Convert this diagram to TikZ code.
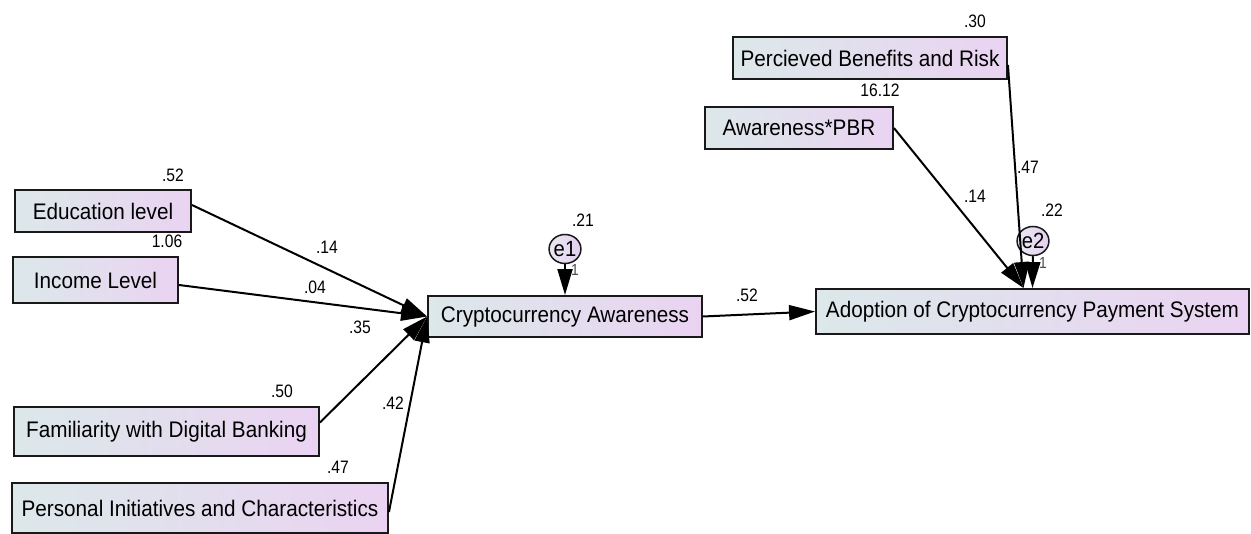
\documentclass[tikz,border=0pt]{standalone}
\usepackage{fontspec}
\setmainfont{Liberation Sans}
\newfontfamily\boxfont{Liberation Sans}[FakeStretch=0.92]
\newfontfamily\numfont{Liberation Sans}[FakeStretch=0.87]
\usetikzlibrary{arrows.meta,calc,shapes.geometric}
\definecolor{boxL}{RGB}{220,232,234}
\definecolor{boxR}{RGB}{234,211,242}
\definecolor{errL}{RGB}{236,232,244}
\definecolor{errR}{RGB}{226,208,238}
\tikzset{
  var/.style={draw=black!90, line width=1.9pt, left color=boxL, right color=boxR,
    inner sep=0pt, font=\boxfont\fontsize{22.5}{26}\selectfont},
  err/.style={draw=black!90, line width=1.5pt, ellipse, left color=errL, right color=errR,
    inner sep=0pt, minimum width=26pt, minimum height=29pt, font=\boxfont\fontsize{22}{26}\selectfont},
  coef/.style={inner sep=0pt, font=\numfont\fontsize{18}{20}\selectfont},
  one/.style={inner sep=0pt, text=black!70, font=\numfont\fontsize{16}{18}\selectfont},
  regpath/.style={draw=black, line width=2pt, -{Triangle[length=26pt,width=15pt]}},
}
\begin{document}
\begin{tikzpicture}[x=1pt,y=-1pt]
\useasboundingbox (0,0) rectangle (1251,534);

% observed variables
\node[var, minimum width=176pt, minimum height=42pt] (edu) at (103,211) {Education level};
\node[var, minimum width=165pt, minimum height=46pt] (inc) at (95.5,280) {Income Level};
\node[var, minimum width=305pt, minimum height=49pt] (fam) at (166.5,431.5) {Familiarity with Digital Banking};
\node[var, minimum width=376pt, minimum height=50pt] (per) at (200,508) {Personal Initiatives and Characteristics};
\node[var, minimum width=274pt, minimum height=41pt] (ca) at (565,316.5) {Cryptocurrency Awareness};
\node[var, minimum width=274pt, minimum height=42pt] (pbr) at (870,58) {Percieved Benefits and Risk};
\node[var, minimum width=188pt, minimum height=42pt] (awp) at (799,128) {Awareness*PBR};
\node[var, minimum width=433pt, minimum height=45pt] (ad) at (1032.5,311.5) {Adoption of Cryptocurrency Payment System};

% error terms
\node[err] (e1) at (565,249) {e1};
\node[err] (e2) at (1033,241) {e2};

% regression paths
\draw[regpath] ([yshift=6pt]edu.east) -- (ca.west);
\draw[regpath] ([yshift=-5pt]inc.east) -- (ca.west);
\draw[regpath] ([yshift=9pt]fam.east) -- (ca.west);
\draw[regpath] ([yshift=-4pt]per.east) -- (ca.west);
\draw[regpath] (ca.east) -- (ad.west);
\draw[regpath] ([yshift=-7pt]pbr.east) -- ([xshift=-9pt]ad.north);
\draw[regpath] (awp.east) -- ([xshift=-9pt]ad.north);
\draw[regpath] (e1) -- (ca.north);
\draw[regpath] (e2) -- (ad.north);

% variances and estimates
\node[coef] (vedu) at (173,175) {.52};
\node[coef] (vinc) at (167,241) {1.06};
\node[coef] (vfam) at (282,391) {.50};
\node[coef] (vper) at (338,467) {.47};
\node[coef] (ve1) at (583,220) {.21};
\node[coef] (vpbr) at (975,21) {.30};
\node[coef] (vawp) at (880,90) {16.12};
\node[coef] (ve2) at (1052,210) {.22};

\node[coef] (bedu) at (327,247) {.14};
\node[coef] (binc) at (315,287) {.04};
\node[coef] (bfam) at (360,327) {.35};
\node[coef] (bper) at (393,403) {.42};
\node[coef] (bca) at (747,295) {.52};
\node[coef] (bpbr) at (1028,167) {.47};
\node[coef] (bawp) at (975,196) {.14};

\node[one] (f1) at (575,270) {1};
\node[one] (f2) at (1043,263) {1};
\end{tikzpicture}
\end{document}
